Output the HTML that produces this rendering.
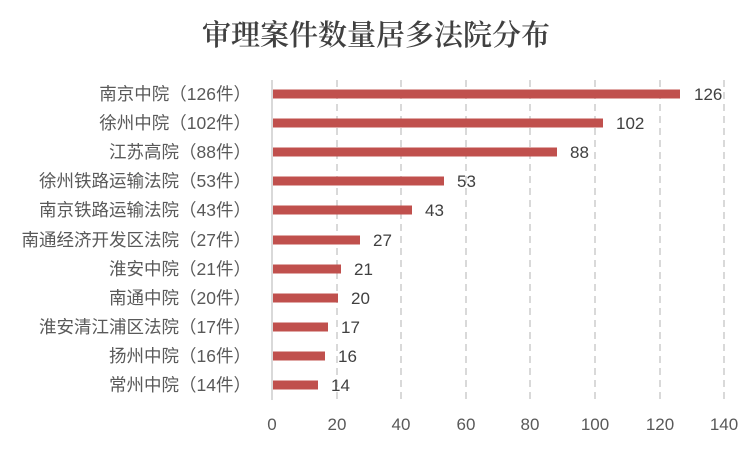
<!DOCTYPE html>
<html><head><meta charset="utf-8"><style>
body{margin:0;background:#fff;}
svg text{font-family:"Liberation Sans","Noto Sans CJK SC",sans-serif;}
</style></head><body>
<svg width="751" height="451" xmlns="http://www.w3.org/2000/svg">
<rect width="751" height="451" fill="#fff"/>
<text x="376" y="45" text-anchor="middle" font-size="29" font-weight="600" fill="#404040" style="font-family:'Noto Serif CJK SC','Liberation Serif',serif">审理案件数量居多法院分布</text>
<g stroke="#d9d9d9" stroke-width="2" stroke-dasharray="7,5">
<line x1="337" y1="80" x2="337" y2="400"/><line x1="401" y1="80" x2="401" y2="400"/>
<line x1="466" y1="80" x2="466" y2="400"/><line x1="530" y1="80" x2="530" y2="400"/>
<line x1="595" y1="80" x2="595" y2="400"/><line x1="660" y1="80" x2="660" y2="400"/>
<line x1="724" y1="80" x2="724" y2="400"/>
</g>
<line x1="272" y1="80" x2="272" y2="400" stroke="#d9d9d9" stroke-width="2"/>
<g fill="#c0504d">
<rect x="273" y="89.5" width="407" height="9"/>
<rect x="273" y="118.5" width="330" height="9"/>
<rect x="273" y="147.5" width="284" height="9"/>
<rect x="273" y="176.5" width="171" height="9"/>
<rect x="273" y="205.5" width="139" height="9"/>
<rect x="273" y="235.5" width="87" height="9"/>
<rect x="273" y="264.5" width="68" height="9"/>
<rect x="273" y="293.5" width="65" height="9"/>
<rect x="273" y="322.5" width="55" height="9"/>
<rect x="273" y="351.5" width="52" height="9"/>
<rect x="273" y="380.5" width="45" height="9"/>
</g>
<g font-size="17" fill="#404040">
<text x="694" y="100">126</text><text x="616" y="129">102</text><text x="570" y="158">88</text>
<text x="457" y="187">53</text><text x="425" y="216">43</text><text x="373" y="246">27</text>
<text x="354" y="275">21</text><text x="351" y="304">20</text><text x="341" y="333">17</text>
<text x="338" y="362">16</text><text x="331" y="391">14</text>
</g>
<g font-size="17.5" fill="#595959" text-anchor="end">
<text x="251" y="100">南京中院（126件）</text>
<text x="251" y="129">徐州中院（102件）</text>
<text x="251" y="158">江苏高院（88件）</text>
<text x="251" y="187">徐州铁路运输法院（53件）</text>
<text x="251" y="216">南京铁路运输法院（43件）</text>
<text x="251" y="246">南通经济开发区法院（27件）</text>
<text x="251" y="275">淮安中院（21件）</text>
<text x="251" y="304">南通中院（20件）</text>
<text x="251" y="333">淮安清江浦区法院（17件）</text>
<text x="251" y="362">扬州中院（16件）</text>
<text x="251" y="391">常州中院（14件）</text>
</g>
<g font-size="17" fill="#595959" text-anchor="middle">
<text x="272" y="430">0</text><text x="337" y="430">20</text><text x="401" y="430">40</text>
<text x="466" y="430">60</text><text x="530" y="430">80</text><text x="595" y="430">100</text>
<text x="660" y="430">120</text><text x="724" y="430">140</text>
</g>
</svg>
</body></html>
